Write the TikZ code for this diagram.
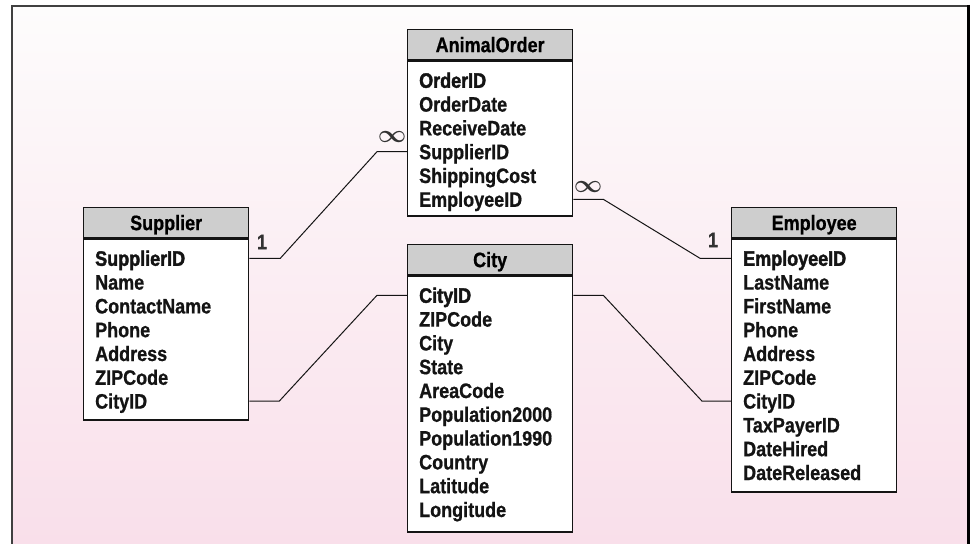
\documentclass[tikz,border=0pt]{standalone}
\usepackage{fontspec}
\setmainfont{Liberation Sans}[FakeStretch=0.86, FakeBold=0.8]
\newfontfamily\keyfont{Liberation Sans}[FakeStretch=0.86, FakeBold=1.8]
\usetikzlibrary{calc}

\definecolor{bgtop}{RGB}{253,252,252}
\definecolor{bgbot}{RGB}{249,223,234}
\definecolor{headgray}{RGB}{206,206,206}
\definecolor{ink}{RGB}{20,20,20}
\definecolor{labelgray}{RGB}{50,50,50}

% One entity table: #1 name, #2 left x, #3 top y, #4 title, #5 body height, #6 fields
\newcommand\erTable[6]{%
  \node[erhead, anchor=north west] (#1) at (#2,#3) {#4};
  \node[erbody, anchor=north, minimum height=#5] (#1-body) at (#1.south) {};
  \foreach \f [count=\i] in {#6} {
    \pgfmathsetmacro\rowy{20+(\i-1)*23.8}
    \node[erfield, anchor=west] (#1-\i) at ($(#1-body.north west)+(12,\rowy)$)
      {\ifnum\i=1 \keyfont\fi\f};
  }
}

\begin{document}
\begin{tikzpicture}[x=1bp, y=-1bp,
  font=\fontsize{21}{23.8}\selectfont\bfseries,
  erhead/.style={draw=ink, line width=1.3bp, fill=headgray, minimum width=165bp,
    minimum height=30bp, inner sep=0pt, text height=15bp, text depth=0pt},
  erbody/.style={draw=ink, line width=1.3bp, fill=white, minimum width=165bp, inner sep=0pt},
  erfield/.style={inner sep=0pt, text height=15bp, text depth=0pt, text=ink},
  link/.style={draw=ink, line width=1bp},
  cardone/.style={text=labelgray, inner sep=0pt},
  cardmany/.style={text=labelgray, font=\fontsize{27}{27}\selectfont\boldmath, inner sep=0pt}]

\useasboundingbox (0,0) rectangle (971,544);

% panel background and frame
\shade[top color=bgtop, bottom color=bgbot] (12,6) rectangle (968,544);
\draw[line width=2bp, black!75] (12,544) -- (12,6) -- (968,6);
\draw[line width=3bp, black] (968.5,5) -- (968.5,544);

% entity tables
\erTable{ao}{407}{29}{AnimalOrder}{155bp}{OrderID,OrderDate,ReceiveDate,SupplierID,ShippingCost,EmployeeID}
\erTable{sup}{83}{207}{Supplier}{181bp}{SupplierID,Name,ContactName,Phone,Address,ZIPCode,CityID}
\erTable{city}{407}{244}{City}{256bp}{CityID,ZIPCode,City,State,AreaCode,Population2000,Population1990,Country,Latitude,Longitude}
\erTable{emp}{731}{207}{Employee}{253bp}{EmployeeID,LastName,FirstName,Phone,Address,ZIPCode,CityID,TaxPayerID,DateHired,DateReleased}

% relationships
\draw[link] (sup-body.east |- sup-1) -- ++(31,0)
  -- ($(ao-body.west |- ao-4)+(-30,0)$) -- (ao-body.west |- ao-4);
\node[cardone] (sup-one) at (262,242) {1};
\node[cardmany] (ao-many-sup) at (392,137) {$\infty$};

\draw[link] (ao-body.east |- ao-6) -- ++(30,0)
  -- ($(emp-body.west |- emp-1)+(-31,0)$) -- (emp-body.west |- emp-1);
\node[cardmany] (ao-many-emp) at (588,187) {$\infty$};
\node[cardone] (emp-one) at (713,240) {1};

\draw[link] (sup-body.east |- sup-7) -- ++(30,0)
  -- ($(city-body.west |- city-1)+(-30,0)$) -- (city-body.west |- city-1);

\draw[link] (city-body.east |- city-1) -- ++(30,0)
  -- ($(emp-body.west |- emp-7)+(-29,0)$) -- (emp-body.west |- emp-7);
\end{tikzpicture}
\end{document}
